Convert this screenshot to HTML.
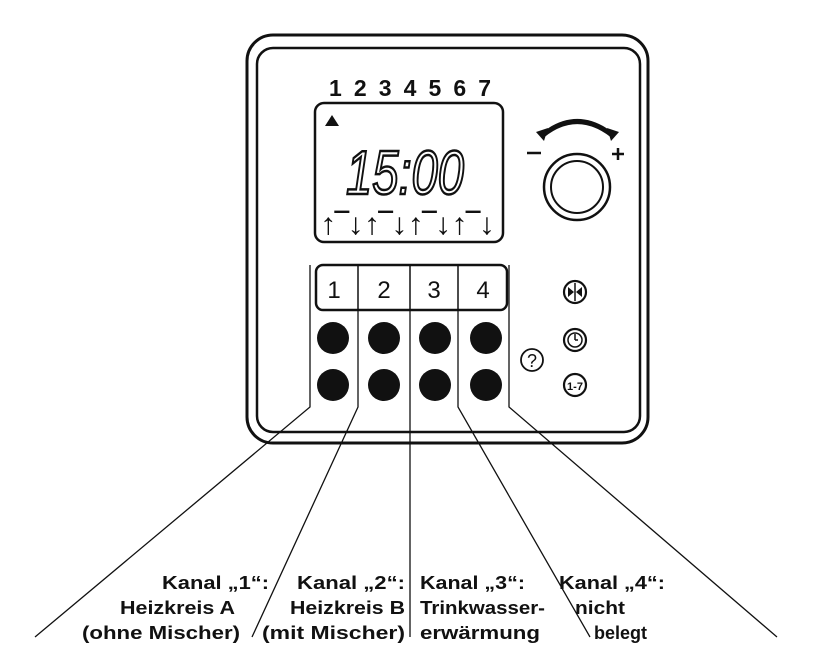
<!DOCTYPE html>
<html><head><meta charset="utf-8"><style>
html,body{margin:0;padding:0;background:#fff;width:838px;height:658px;overflow:hidden}
svg{display:block}
text{font-family:"Liberation Sans",sans-serif;fill:#111}
</style></head><body>
<svg width="838" height="658" viewBox="0 0 838 658" xmlns="http://www.w3.org/2000/svg">
<g fill="none" stroke="#111">
<rect x="247" y="35" width="401" height="408" rx="26" stroke-width="3"/>
<rect x="257" y="48" width="383" height="384" rx="16" stroke-width="2.5"/>
<rect x="315" y="103" width="188" height="139" rx="9" stroke-width="2.5"/>
<circle cx="577" cy="187" r="33" stroke-width="2.5"/>
<circle cx="577" cy="187" r="26" stroke-width="2"/>
<path d="M543 135 Q577 108 612 135" stroke-width="5"/>
<path d="M527 153 H541 M612 154 H624 M618 148 V160" stroke-width="2.5"/>
<rect x="316" y="265" width="191" height="45" rx="7" stroke-width="2.5"/>
<path d="M358 265V310M410 265V310M458 265V310" stroke-width="1.5"/>
<g stroke-width="1.3">
<path d="M310 265V407L35 637"/>
<path d="M358 310V407L252 637"/>
<path d="M410 310V637"/>
<path d="M458 310V407L590 637"/>
<path d="M509 265V407L777 637"/>
</g>
<g stroke-width="2.2">
<circle cx="575" cy="292" r="11"/>
<circle cx="575" cy="340" r="11"/>
<circle cx="575" cy="340" r="7" stroke-width="1.5"/>
<circle cx="575" cy="385" r="11"/>
<circle cx="532" cy="360" r="11" stroke-width="1.8"/>
</g>
<path d="M575 283V301 M575 340V334 M575 340H578" stroke-width="1.5"/>
</g>
<path d="M536 132 L548 128 L544 141Z M619 132 L607 128 L611 141Z" fill="#111"/>
<path d="M568 287 L574 292 L568 297Z M582 287 L576 292 L582 297Z" fill="#111"/>
<path d="M325 126 L332 115 L339 126Z" fill="#111"/>
<g fill="#111">
<circle cx="333" cy="338" r="16"/><circle cx="384" cy="338" r="16"/><circle cx="435" cy="338" r="16"/><circle cx="486" cy="338" r="16"/>
<circle cx="333" cy="385" r="16"/><circle cx="384" cy="385" r="16"/><circle cx="435" cy="385" r="16"/><circle cx="486" cy="385" r="16"/>
</g>
<text x="329" y="96" font-size="23" font-weight="bold" textLength="162" lengthAdjust="spacing">1234567</text>
<text x="346" y="194" font-size="62" font-style="italic" font-weight="300" textLength="118" lengthAdjust="spacingAndGlyphs" style="fill:none;stroke:#111;stroke-width:2.5">15:00</text>
<text x="320" y="234" font-size="30" font-weight="bold" textLength="175" lengthAdjust="spacingAndGlyphs">↑‾↓↑‾↓↑‾↓↑‾↓</text>
<g font-size="24" text-anchor="middle">
<text x="334" y="298">1</text><text x="384" y="298">2</text><text x="434" y="298">3</text><text x="483" y="298">4</text>
</g>
<text x="532" y="367" font-size="18" text-anchor="middle">?</text>
<text x="575" y="390" font-size="11" font-weight="bold" text-anchor="middle">1-7</text>
<g font-size="18" font-weight="bold">
<text x="162" y="589" textLength="107" lengthAdjust="spacingAndGlyphs">Kanal „1“:</text>
<text x="120" y="614" textLength="115" lengthAdjust="spacingAndGlyphs">Heizkreis A</text>
<text x="82" y="639" textLength="158" lengthAdjust="spacingAndGlyphs">(ohne Mischer)</text>
<text x="297" y="589" textLength="108" lengthAdjust="spacingAndGlyphs">Kanal „2“:</text>
<text x="290" y="614" textLength="115" lengthAdjust="spacingAndGlyphs">Heizkreis B</text>
<text x="262" y="639" textLength="143" lengthAdjust="spacingAndGlyphs">(mit Mischer)</text>
<text x="420" y="589" textLength="105" lengthAdjust="spacingAndGlyphs">Kanal „3“:</text>
<text x="420" y="614" textLength="125" lengthAdjust="spacingAndGlyphs">Trinkwasser-</text>
<text x="420" y="639" textLength="120" lengthAdjust="spacingAndGlyphs">erwärmung</text>
<text x="559" y="589" textLength="106" lengthAdjust="spacingAndGlyphs">Kanal „4“:</text>
<text x="575" y="614" textLength="50" lengthAdjust="spacingAndGlyphs">nicht</text>
<text x="594" y="639">belegt</text>
</g>
</svg>
</body></html>
